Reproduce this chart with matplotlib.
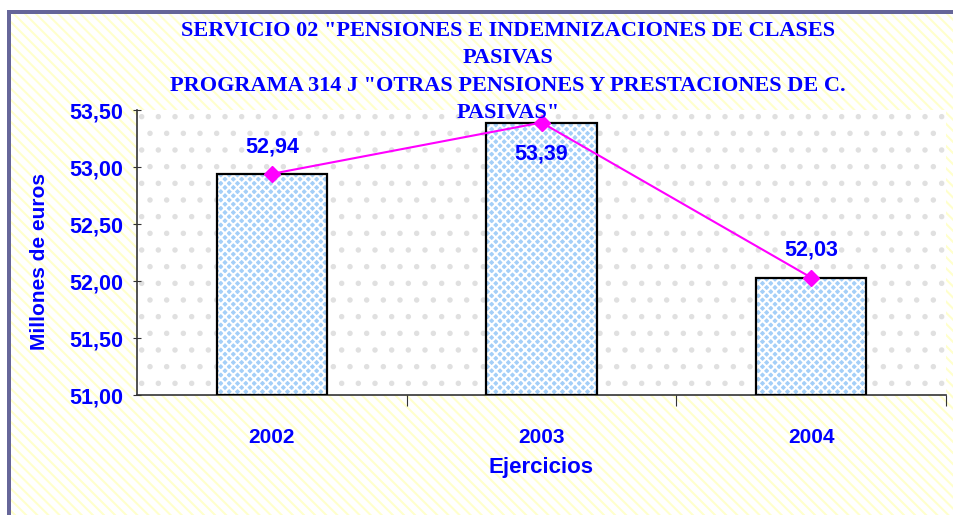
import matplotlib
matplotlib.use("Agg")
import matplotlib.pyplot as plt
from matplotlib.patches import Rectangle

years = ["2002", "2003", "2004"]
values = [52.94, 53.39, 52.03]
value_labels = ["52,94", "53,39", "52,03"]
yticks = [51.0, 51.5, 52.0, 52.5, 53.0, 53.5]
ytick_labels = ["51,00", "51,50", "52,00", "52,50", "53,00", "53,50"]
title = ('SERVICIO 02 "PENSIONES E INDEMNIZACIONES DE CLASES\nPASIVAS\n'
         'PROGRAMA 314 J "OTRAS PENSIONES Y PRESTACIONES DE C.\nPASIVAS"')

BLUE = "#0000ff"
W, H = 954, 515
fig = plt.figure(figsize=(W / 100, H / 100), dpi=100)
fig.patch.set_facecolor("white")
plt.rcParams['hatch.linewidth'] = 1.5

# background with light yellow diagonal stripes
bg = Rectangle((11 / W, 0), 1 - 11 / W, 1 - 14 / H, transform=fig.transFigure,
               facecolor="white", edgecolor="#ffffcc", hatch="\\\\\\", lw=0, zorder=-10)
fig.patches.append(bg)
# purple border top and left
fig.patches.append(Rectangle((7 / W, 1 - 14 / H), 1 - 7 / W, 4 / H, transform=fig.transFigure,
                             facecolor="#666699", lw=0, zorder=-5))
fig.patches.append(Rectangle((7 / W, 0), 4 / W, 1 - 11 / H, transform=fig.transFigure,
                             facecolor="#666699", lw=0, zorder=-5))

ax = fig.add_axes([137 / W, (H - 395) / H, (946 - 137) / W, (395 - 110) / H])
ax.set_facecolor("white")
ax.add_patch(Rectangle((0, 0), 1, 1, transform=ax.transAxes, facecolor="white",
                       edgecolor="#e0e0e0", hatch=".", lw=0, zorder=0))

x = list(range(len(years)))
ax.bar(x, [v - 51.0 for v in values], bottom=51.0, width=0.41, color="#a4cff8",
       edgecolor="white", hatch="xxxx", lw=0, zorder=2)
ax.bar(x, [v - 51.0 for v in values], bottom=51.0, width=0.41, fill=False,
       edgecolor="black", lw=1.6, zorder=3)
ax.plot(x, values, color="#ff00ff", lw=1.5, marker="D", markersize=8, zorder=4, clip_on=False)

offsets = [(0, 12, "bottom"), (0, -15, "top"), (0, 12, "bottom")]
for xi, v, lab, (dx, dy, va) in zip(x, values, value_labels, offsets):
    ax.annotate(lab, (xi, v), xytext=(dx, dy), textcoords="offset points", ha="center", va=va,
                color=BLUE, fontsize=15.5, fontweight="bold", family="Liberation Sans", zorder=5)

ax.set_xlim(-0.5, 2.5)
ax.set_ylim(51.0, 53.5)
ax.set_yticks(yticks)
ax.set_yticklabels(ytick_labels)
ax.set_xticks([0.5, 1.5, 2.5])
ax.set_xticklabels([])
ax.set_xticks(x, minor=True)
ax.set_xticklabels(years, minor=True)
ax.tick_params(axis="x", which="minor", length=0, pad=24)
ax.tick_params(axis="x", which="major", length=8, direction="out", color="#333333")
ax.tick_params(axis="y", length=6, direction="inout", color="#333333", pad=7)
for lab in ax.get_yticklabels() + ax.get_xticklabels(minor=True):
    lab.set_color(BLUE)
    lab.set_fontweight("bold")
    lab.set_family("Liberation Sans")
for lab in ax.get_yticklabels():
    lab.set_fontsize(15.5)
for lab in ax.get_xticklabels(minor=True):
    lab.set_fontsize(15)

for s in ["top", "right"]:
    ax.spines[s].set_visible(False)
ax.spines["left"].set_color("#333333")
ax.spines["bottom"].set_color("#333333")
ax.spines["left"].set_linewidth(1.2)
ax.spines["bottom"].set_linewidth(1.2)

fig.text(40 / W, 1 - 262 / H, "Millones de euros", rotation=90, ha="center", va="center",
         color=BLUE, fontsize=15, fontweight="bold", family="Liberation Sans")
fig.text(541 / W, 1 - 468 / H, "Ejercicios", ha="center", va="center",
         color=BLUE, fontsize=16, fontweight="bold", family="Liberation Sans")
fig.text(508 / W, 1 - 72 / H, title, ha="center", va="center", color=BLUE,
         fontsize=16, fontweight="bold", family="Liberation Serif", linespacing=1.48, zorder=6)

fig.savefig("out.png", dpi=100)
